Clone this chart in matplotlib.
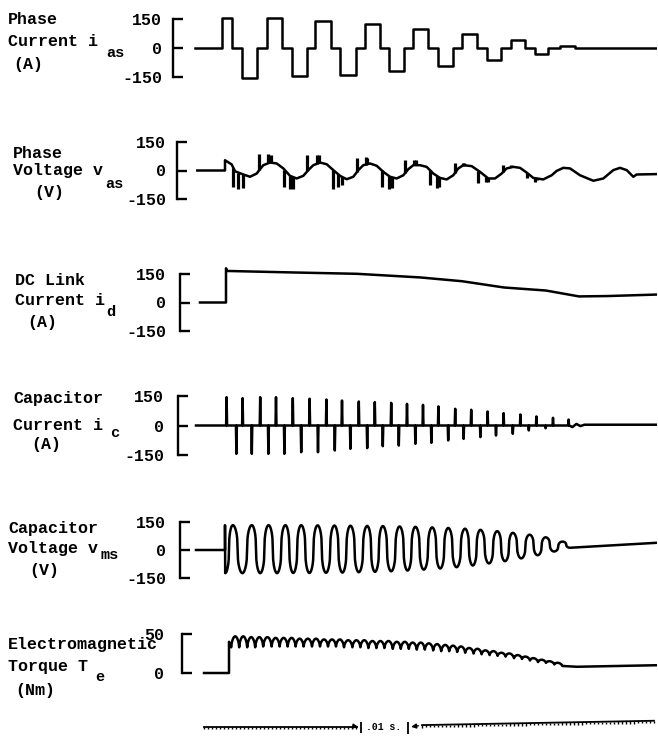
import numpy as np
import matplotlib.pyplot as plt

plt.rcParams['font.family'] = ['Liberation Mono', 'DejaVu Sans Mono']
plt.rcParams['font.weight'] = 'bold'
plt.rcParams['axes.unicode_minus'] = False

# ---- data (time in ms) ----
# phase current i_as : step edges and levels
ias_edges = [-0.75, 6.0, 8.5, 11.0, 14.75, 17.25, 21.0, 23.5, 27.25, 29.25, 33.25,
             35.5, 39.5, 41.75, 45.5, 47.75, 51.5, 53.75, 57.5, 60.0, 63.75, 66.0,
             69.75, 72.25, 75.75, 78.25, 81.75, 84.25, 87.5, 90.5, 94.25, 114.75]
ias_levels = [0, 155, 0, -155, 0, 155, 0, -145, 0, 140, 0, -140, 0, 123, 0, -118,
              0, 100, 0, -91, 0, 75, 0, -64, 0, 43, 0, -32, 0, 10, 0]

# phase voltage v_as : base curve + commutation spikes
vas_t = [-0.17, 6.75, 6.75, 8.42, 9.25, 11.33, 13.0, 14.67, 15.5, 16.33, 18.0, 19.67,
         21.33, 23.0, 24.67, 26.33, 27.58, 28.83, 30.5, 32.17, 33.83, 35.5, 37.17,
         38.83, 40.08, 41.33, 43.0, 44.67, 46.33, 48.0, 49.67, 51.33, 52.58, 53.83,
         55.5, 57.17, 58.83, 60.5, 62.17, 63.83, 65.08, 66.33, 68.42, 70.5, 72.58,
         74.25, 75.92, 77.17, 78.83, 80.5, 82.17, 83.83, 86.33, 88.42, 89.67, 91.33,
         93.0, 95.5, 98.83, 101.33, 103.83, 105.5, 107.17, 108.83, 109.67, 114.67]
vas_v = [0, 0, 54, 32, -4, -21, -33, -16, 7, 28, 42, 37, 11, -28, -42, -28, 2, 28,
         42, 33, 2, -28, -46, -33, 2, 28, 37, 25, -7, -33, -42, -25, 7, 28, 28, 19,
         -16, -39, -47, -25, 11, 28, 23, -7, -42, -42, -16, 11, 19, 14, -11, -39,
         -47, -25, -2, 14, 11, -25, -54, -42, 2, 14, 2, -33, -21, -19]
vas_spike_t = [8.83, 10.08, 11.17, 15.25, 17.58, 18.17, 21.58, 23.0, 23.83, 27.33,
               29.67, 30.25, 33.67, 35.08, 35.92, 39.67, 41.92, 42.33, 45.92, 47.83,
               48.42, 51.75, 54.0, 54.5, 58.0, 59.83, 60.33, 64.25, 66.17, 66.5,
               70.08, 72.0, 72.42, 76.33, 78.17, 78.67, 82.17, 84.25, 84.67]
vas_spike_v = [-86, -98, -91, 89, 89, 84, -86, -98, -95, 81, 81, 84, -95, -86, -77,
               67, 72, 67, -86, -95, -91, 54, 54, 54, -77, -91, -86, 42, 37, 42,
               -68, -63, -60, 28, 28, 19, -42, -60, -51]

# dc link current i_d
id_t = [0.5, 7.0, 7.0, 7.3, 24.0, 39.75, 55.5, 66.0, 76.5, 87.0, 95.25, 102.5, 115.0]
id_v = [0, 0, 180, 166, 158, 151, 132, 112, 79, 63, 32, 34, 42]

# capacitor current i_c : spike times and tips
ic_up_t = [7.15, 11.15, 15.55, 19.5, 23.7, 27.9, 32.1, 36.0, 40.2, 44.2, 48.3, 52.25,
           56.25, 60.1, 64.3, 68.3, 72.4, 76.4, 80.6, 84.6, 88.75, 92.65]
ic_up_v = [144, 139, 144, 144, 139, 136, 132, 127, 122, 119, 115, 110, 105, 97, 85,
           80, 71, 63, 56, 46, 39, 30]
ic_dn_t = [9.6, 13.45, 17.6, 21.6, 25.8, 30.0, 34.2, 38.1, 42.3, 46.2, 50.2, 54.35,
           58.35, 62.55, 66.4, 70.6, 74.5, 78.7, 82.7, 86.9]
ic_dn_v = [-144, -144, -144, -144, -136, -136, -127, -119, -115, -105, -102, -93,
           -88, -76, -68, -59, -51, -42, -25, -14]
ic_tail_t = [93.6, 94.6, 95.6, 96.6, 115.0]
ic_tail_v = [-8, 8, -3, 4, 4]

# capacitor voltage v_ms : extrema (trough, peak, trough, ...)
vms_ext_t = [6.8, 8.7, 11.1, 13.45, 15.55, 17.65, 19.75, 21.85, 23.8, 25.8, 27.85,
             29.9, 32.0, 34.1, 36.1, 38.1, 40.2, 42.3, 44.25, 46.2, 48.3, 50.4, 52.4,
             54.35, 56.45, 58.55, 60.55, 62.55, 64.65, 66.75, 68.7, 70.6, 72.75, 74.8,
             76.75, 78.7, 80.8, 82.9, 84.9, 86.9, 89.0, 91.1, 93.0]
vms_ext_v = [-124, 133, -124, 133, -124, 133, -124, 133, -123, 133, -123, 132, -122,
             131, -121, 130, -119, 129, -117, 128, -114, 126, -110, 124, -105, 121,
             -99, 118, -92, 114, -83, 108, -72, 101, -60, 92, -45, 82, -28, 68, -8,
             45, 12]
vms_end_t = [115.0]
vms_end_v = [39]

# electromagnetic torque T_e : ripple cusps and arch tops
te_cusp_t = [8.3, 10.3, 12.3, 14.3, 16.3, 18.4, 20.4, 22.4, 24.4, 26.4, 28.5, 30.5,
             32.5, 34.5, 36.5, 38.6, 40.6, 42.6, 44.6, 46.6, 48.7, 50.7, 52.7, 54.7,
             56.7, 58.8, 60.8, 62.8, 64.8, 66.8, 68.9, 70.9, 72.9, 74.9, 76.9, 79.0,
             81.0, 83.0, 85.0, 87.0, 89.1, 91.1]
te_cusp_v = [33, 33, 33, 33, 34, 34, 34, 34, 34, 34, 34, 34, 34, 34, 33, 33, 33, 32,
             32, 32, 31, 31, 31, 30, 30, 29, 28, 28, 27, 26, 25, 24, 23, 22, 21, 19,
             18, 16, 14, 13, 11, 9]
te_top_v = [47, 47, 46, 46, 46, 45, 45, 45, 44, 44, 44, 43, 43, 43, 42, 42, 42, 41,
            41, 41, 40, 40, 39, 39, 38, 37, 36, 35, 34, 32, 31, 29, 28, 26, 25, 23,
            21, 19, 17, 15, 13]
te_head_t = [1.5, 7.75, 7.75]
te_head_v = [0, 0, 40]
te_end_t = [94.75, 115.0]
te_end_v = [8, 10]

scale_s = '.01 s.'

# ---- layout ----
W, H = 658, 738
PX0, PXMS = 198.0, 4.0      # pixel of t = 0, pixels per ms
RIGHT = 657
fig = plt.figure(figsize=(W / 100, H / 100), dpi=100)


def panel(bx, ytop, ybot, ticks, lo, hi, pad=8):
    vtop, vbot = ticks[-1], ticks[0]
    ppu = (ybot - ytop) / (vtop - vbot)
    top_px = ytop - (hi - vtop) * ppu
    bot_px = ybot + (vbot - lo) * ppu
    ax = fig.add_axes([bx / W, 1 - bot_px / H, (RIGHT - bx) / W, (bot_px - top_px) / H])
    ax.set_xlim((bx - PX0) / PXMS, (RIGHT - PX0) / PXMS)
    ax.set_ylim(lo, hi)
    for s in ['top', 'right', 'bottom']:
        ax.spines[s].set_visible(False)
    ax.spines['left'].set_bounds(vbot, vtop)
    ax.spines['left'].set_linewidth(1.7)
    ax.set_xticks([])
    ax.set_yticks(ticks)
    ax.set_yticklabels([str(t) for t in ticks])
    ax.tick_params(axis='y', direction='in', length=7, width=1.7, pad=pad, labelsize=12)
    ax.patch.set_visible(False)
    return ax


def label(lines, sub):
    for x, y, s in lines:
        fig.text(x / W, 1 - y / H, s, ha='left', va='center', fontsize=12, fontweight='bold')
    x, y, s = sub
    fig.text(x / W, 1 - y / H, s, ha='left', va='center', fontsize=11, fontweight='bold')


LW = 1.8

# 1 phase current
ax1 = panel(173, 19, 77, [-150, 0, 150], -200, 200)
ax1.plot(np.repeat(ias_edges, 2)[1:-1], np.repeat(ias_levels, 2), color='black', lw=LW)
label([(8, 20, 'Phase'), (8, 42, 'Current i'), (13, 64, '(A)')], (106, 53, 'as'))

# 2 phase voltage
ax2 = panel(177, 142, 199, [-150, 0, 150], -200, 200)
ax2.plot(vas_t, vas_v, color='black', lw=LW)
ax2.vlines(vas_spike_t, np.interp(vas_spike_t, vas_t, vas_v), vas_spike_v, color='black', lw=2.3)
label([(13, 154, 'Phase'), (13, 171, 'Voltage v'), (34, 193, '(V)')], (105, 184, 'as'))

# 3 dc link current
ax3 = panel(180, 274, 331, [-150, 0, 150], -200, 200, pad=10)
ax3.plot(id_t, id_v, color='black', lw=LW)
label([(15, 280, 'DC Link'), (15, 301, 'Current i'), (27, 322, '(A)')], (106, 312, 'd'))

# 4 capacitor current
ax4 = panel(178, 396, 455, [-150, 0, 150], -200, 200, pad=10)
ev = sorted(list(zip(ic_up_t, ic_up_v)) + list(zip(ic_dn_t, ic_dn_v)))
ct, cv = [-0.5], [0]
for t, v in ev:
    ct += [t - 0.12, t, t + 0.12]
    cv += [0, v, 0]
ct += ic_tail_t
cv += ic_tail_v
ax4.plot(ct, cv, color='black', lw=LW)
label([(13, 398, 'Capacitor'), (13, 425, 'Current i'), (31, 445, '(A)')], (110, 433, 'c'))

# 5 capacitor voltage
ax5 = panel(180, 522, 578, [-150, 0, 150], -200, 200, pad=10)
vt, vv = [-0.5, 6.75, 6.75], [0, 0, vms_ext_v[1]]
for i in range(len(vms_ext_t) - 1):
    a, b = vms_ext_v[i], vms_ext_v[i + 1]
    s = np.linspace(0, 1, 25)
    c = np.cos(np.pi * s)
    vt += list(vms_ext_t[i] + s * (vms_ext_t[i + 1] - vms_ext_t[i]))
    vv += list((a + b) / 2 + (a - b) / 2 * np.sign(c) * np.abs(c) ** 0.4)
vt += vms_end_t
vv += vms_end_v
ax5.plot(vt, vv, color='black', lw=LW)
label([(8, 528, 'Capacitor'), (8, 548, 'Voltage v'), (29, 570, '(V)')], (101, 555, 'ms'))

# 6 torque
ax6 = panel(182, 634, 673, [0, 50], -15, 60, pad=13)
tt, tv = list(te_head_t), list(te_head_v)
for i in range(len(te_top_v)):
    s = np.linspace(0, 1, 15)
    base = te_cusp_v[i] * (1 - s) + te_cusp_v[i + 1] * s
    tt += list(te_cusp_t[i] + s * (te_cusp_t[i + 1] - te_cusp_t[i]))
    tv += list(base + (te_top_v[i] - (te_cusp_v[i] + te_cusp_v[i + 1]) / 2) * np.sin(np.pi * s) ** 0.6)
tt += te_end_t
tv += te_end_v
ax6.plot(tt, tv, color='black', lw=LW)
ax6.spines['left'].set_bounds(0, 50)
label([(8, 645, 'Electromagnetic'), (8, 666, 'Torque T'), (15, 690, '(Nm)')], (95, 677, 'e'))

# time scale bar
axs = fig.add_axes([PX0 / W, 1 - 738 / H, (RIGHT - PX0) / W, 30 / H])
axs.set_xlim(0, (RIGHT - PX0) / PXMS)
axs.set_ylim(0, 1)
axs.axis('off')
left_ms = np.arange(1.5, 39.8, 1.0)
right_ms = np.arange(56.0, 115.0, 1.0)
axs.plot([1.5, 39.75], [0.38, 0.38], color='black', lw=1.3)
axs.vlines(left_ms, 0.30, 0.38, color='black', lw=1.0)
right_y = 0.43 + (right_ms - 56.0) * 0.0025
axs.plot(right_ms, right_y, color='black', lw=1.3)
axs.vlines(right_ms, right_y - 0.08, right_y, color='black', lw=1.0)
axs.annotate('', xy=(40.75, 0.36), xytext=(38.5, 0.40),
             arrowprops=dict(arrowstyle='-|>', color='black', lw=1.0, mutation_scale=7))
axs.vlines([40.75], 0.18, 0.55, color='black', lw=1.3)
axs.annotate('', xy=(52.6, 0.36), xytext=(55.8, 0.42),
             arrowprops=dict(arrowstyle='-|>', color='black', lw=1.0, mutation_scale=7))
axs.vlines([52.4], 0.15, 0.55, color='black', lw=1.3)
axs.text(46.5, 0.38, scale_s, ha='center', va='center', fontsize=7, fontweight='bold')

fig.savefig('out.png', dpi=100)
